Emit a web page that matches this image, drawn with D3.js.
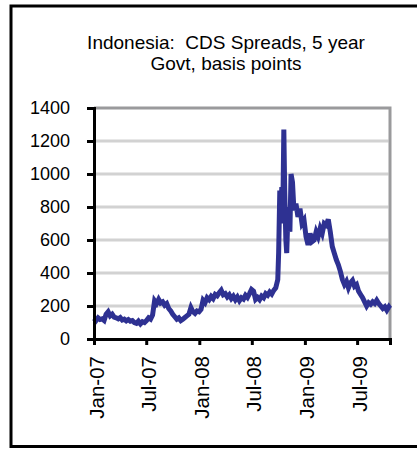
<!DOCTYPE html>
<html>
<head>
<meta charset="utf-8">
<script src="https://cdn.jsdelivr.net/npm/d3@7"></script>
<style>
  body { margin: 0; background: #fff; }
  svg { display: block; font-family: "Liberation Sans", Arial, sans-serif; }
</style>
</head>
<body>
<div id="chart"></div>
<script>
// chart values
let titleLines = ["Indonesia:  CDS Spreads, 5 year", "Govt, basis points"];
let yTicks = [0, 200, 400, 600, 800, 1000, 1200, 1400];
let xTicks = ["2007-01-01", "2007-07-01", "2008-01-01", "2008-07-01", "2009-01-01", "2009-07-01"];
let dates = [
  // 2007
  "2007-01-01", "2007-01-08", "2007-01-15", "2007-01-22", "2007-01-29", "2007-02-05", "2007-02-12", "2007-02-19",
  "2007-02-26", "2007-03-05", "2007-03-12", "2007-03-19", "2007-03-26", "2007-04-02", "2007-04-09", "2007-04-16",
  "2007-04-23", "2007-04-30", "2007-05-07", "2007-05-14", "2007-05-21", "2007-05-28", "2007-06-04", "2007-06-11",
  "2007-06-18", "2007-06-25", "2007-07-02", "2007-07-09", "2007-07-16", "2007-07-23", "2007-07-30", "2007-08-06",
  "2007-08-13", "2007-08-20", "2007-08-27", "2007-09-03", "2007-09-10", "2007-09-17", "2007-09-24", "2007-10-01",
  "2007-10-08", "2007-10-15", "2007-10-22", "2007-10-29", "2007-11-05", "2007-11-12", "2007-11-19", "2007-11-26",
  "2007-12-03", "2007-12-10", "2007-12-17", "2007-12-24", "2007-12-31",
  // 2008
  "2008-01-07", "2008-01-14", "2008-01-21", "2008-01-28", "2008-02-04", "2008-02-11", "2008-02-18", "2008-02-25",
  "2008-03-03", "2008-03-10", "2008-03-17", "2008-03-24", "2008-03-31", "2008-04-07", "2008-04-14", "2008-04-21",
  "2008-04-28", "2008-05-05", "2008-05-12", "2008-05-19", "2008-05-26", "2008-06-02", "2008-06-09", "2008-06-16",
  "2008-06-23", "2008-06-30", "2008-07-07", "2008-07-14", "2008-07-21", "2008-07-28", "2008-08-04", "2008-08-11",
  "2008-08-18", "2008-08-25", "2008-09-01", "2008-09-08", "2008-09-15", "2008-09-22", "2008-09-29", "2008-10-02",
  "2008-10-06", "2008-10-09", "2008-10-13", "2008-10-16", "2008-10-20", "2008-10-23", "2008-10-27", "2008-10-30",
  "2008-11-04", "2008-11-10", "2008-11-14", "2008-11-19", "2008-11-24", "2008-12-01", "2008-12-08", "2008-12-15",
  "2008-12-22", "2008-12-29",
  // 2009
  "2009-01-05", "2009-01-12", "2009-01-19", "2009-01-26", "2009-02-02", "2009-02-09", "2009-02-16", "2009-02-23",
  "2009-03-02", "2009-03-09", "2009-03-16", "2009-03-23", "2009-03-30", "2009-04-06", "2009-04-13", "2009-04-20",
  "2009-04-27", "2009-05-04", "2009-05-11", "2009-05-18", "2009-05-25", "2009-06-01", "2009-06-08", "2009-06-15",
  "2009-06-22", "2009-06-29", "2009-07-06", "2009-07-13", "2009-07-20", "2009-07-27", "2009-08-03", "2009-08-10",
  "2009-08-17", "2009-08-24", "2009-08-31", "2009-09-07", "2009-09-14", "2009-09-21", "2009-09-28", "2009-10-05",
  "2009-10-12", "2009-10-19", "2009-10-23"
];
let spreads = [
  // 2007
  125, 112, 128, 118, 122, 112, 150, 165,
  140, 150, 132, 128, 122, 130, 115, 120,
  110, 118, 108, 112, 100, 95, 108, 92,
  105, 100, 112, 128, 120, 145, 232, 215,
  240, 218, 225, 205, 215, 185, 170, 150,
  135, 120, 128, 112, 120, 130, 140, 150,
  190, 165, 155, 170, 165,
  // 2008
  180, 235, 220, 250, 238, 258, 245, 270,
  262, 280, 295, 268, 275, 255, 268, 245,
  260, 238, 255, 232, 250, 242, 265, 252,
  275, 300, 290, 240, 252, 238, 260, 250,
  275, 265, 285, 272, 295, 310, 360, 520,
  900, 760, 920, 700, 1270, 900, 600, 520,
  800, 650, 1000, 950, 780, 820, 740, 790,
  700, 720,
  // 2009
  620, 570, 640, 590, 600, 650, 620, 670,
  640, 700, 690, 725, 650, 560, 520, 480,
  450, 410, 360, 330, 350, 310, 340, 355,
  320, 330, 290, 270, 250, 225, 200, 220,
  210, 225, 215, 235, 215, 200, 185, 195,
  175, 195, 185
];

let width = 417;
let height = 449;
let plot = { left: 94, right: 390, top: 108, bottom: 339 };

let parseDate = d3.timeParse("%Y-%m-%d");
let formatTick = d3.timeFormat("%b-%y");
let series = dates.map((d, i) => ({ date: parseDate(d), value: spreads[i] }));

let x = d3.scaleTime()
  .domain([parseDate("2007-01-01"), parseDate("2009-10-23")])
  .range([plot.left, plot.right]);

let y = d3.scaleLinear()
  .domain([0, 1400])
  .range([plot.bottom, plot.top]);

const svg = d3.select("#chart").append("svg")
  .attr("width", width)
  .attr("height", height);

// outer frame
svg.append("rect")
  .attr("x", 11)
  .attr("y", 6)
  .attr("width", 440)
  .attr("height", 440.5)
  .attr("fill", "none")
  .attr("stroke", "#000")
  .attr("stroke-width", 3);

// title
svg.append("g")
  .selectAll("text")
  .data(titleLines)
  .join("text")
  .attr("x", 226)
  .attr("y", (d, i) => 49 + i * 20.5)
  .attr("text-anchor", "middle")
  .style("font-size", "19px")
  .style("white-space", "pre")
  .text(d => d);

// gridlines
svg.append("g")
  .selectAll("line")
  .data(yTicks.filter(d => d > 0 && d < 1400))
  .join("line")
  .attr("x1", plot.left)
  .attr("x2", plot.right - 1.5)
  .attr("y1", d => y(d))
  .attr("y2", d => y(d))
  .attr("stroke", "#d2d2d2")
  .attr("stroke-width", 3);

// plot area border (top and right)
svg.append("path")
  .attr("d", `M${plot.left},${plot.top}H${plot.right}V${plot.bottom}`)
  .attr("fill", "none")
  .attr("stroke", "#9a9a9c")
  .attr("stroke-width", 3);

// series
let line = d3.line()
  .x(d => x(d.date))
  .y(d => y(d.value));

svg.append("path")
  .datum(series)
  .attr("d", line)
  .attr("fill", "none")
  .attr("stroke", "#2e3192")
  .attr("stroke-width", 5)
  .attr("stroke-linejoin", "miter");

// y axis
let axisLeft = d3.axisLeft(y)
  .tickValues(yTicks)
  .tickSize(7)
  .tickPadding(17)
  .tickFormat(d3.format("d"));

let gy = svg.append("g")
  .attr("transform", `translate(${plot.left} 0)`)
  .call(axisLeft);
gy.select(".domain").attr("stroke-width", 3);
gy.selectAll(".tick line").attr("stroke-width", 3);
gy.selectAll(".tick text")
  .style("font-size", "18px")
  .attr("fill", "#000");

// x axis
let axisBottom = d3.axisBottom(x)
  .tickValues(xTicks.map(parseDate))
  .tickSize(6)
  .tickFormat(formatTick);

let gx = svg.append("g")
  .attr("transform", `translate(0 ${plot.bottom})`)
  .call(axisBottom);
gx.select(".domain").attr("stroke-width", 3);
gx.selectAll(".tick line").attr("stroke-width", 3);
gx.selectAll(".tick text")
  .attr("y", null)
  .attr("dy", null)
  .attr("transform", "translate(9 17) rotate(-90)")
  .attr("text-anchor", "end")
  .style("font-size", "20.5px")
  .attr("fill", "#000");
svg.selectAll("g").attr("font-family", null).attr("font-size", null);
</script>
</body>
</html>
